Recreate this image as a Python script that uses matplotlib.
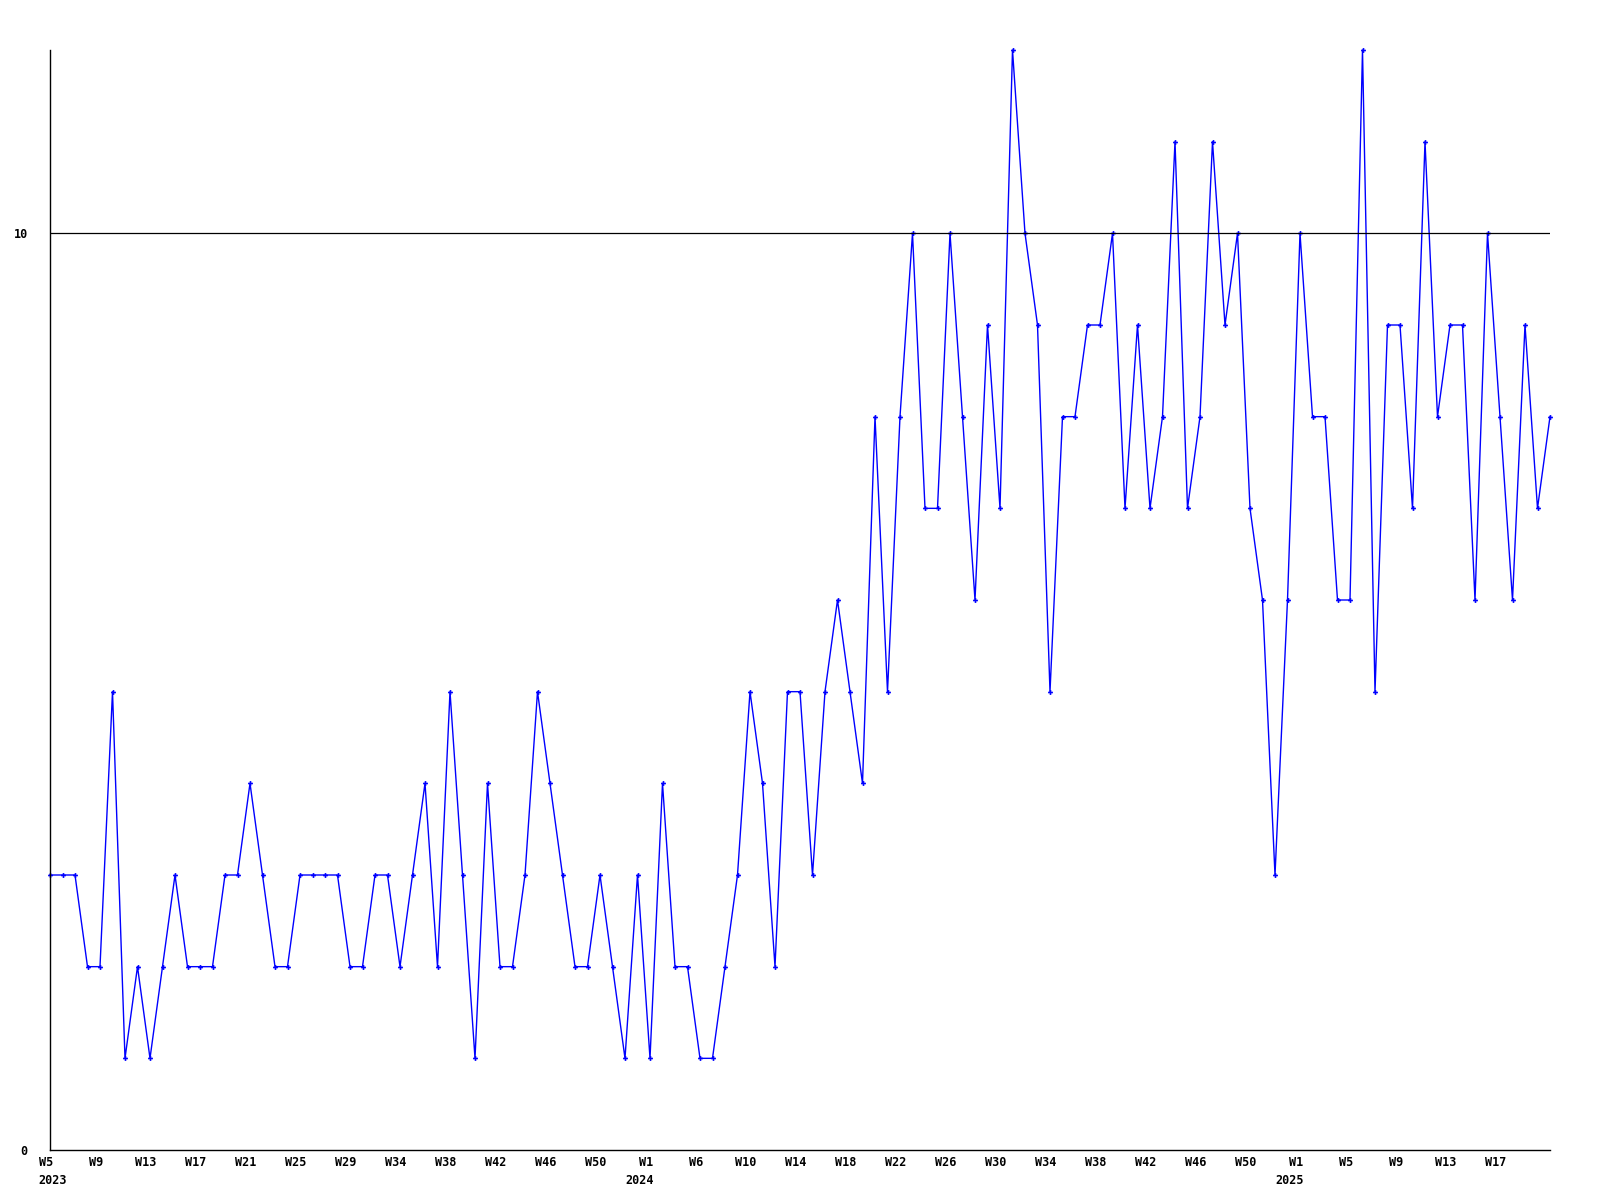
import numpy as np
import matplotlib.pyplot as plt
import matplotlib.transforms as mtransforms

# weekly counts, W5 2023 .. W21 2025
values = [3, 3, 3, 2, 2, 5, 1, 2, 1, 2,
          3, 2, 2, 2, 3, 3, 4, 3, 2, 2,
          3, 3, 3, 3, 2, 2, 3, 3, 2, 3,
          4, 2, 5, 3, 1, 4, 2, 2, 3, 5,
          4, 3, 2, 2, 3, 2, 1, 3, 1, 4,
          2, 2, 1, 1, 2, 3, 5, 4, 2, 5,
          5, 3, 5, 6, 5, 4, 8, 5, 8, 10,
          7, 7, 10, 8, 6, 9, 7, 12, 10, 9,
          5, 8, 8, 9, 9, 10, 7, 9, 7, 8,
          11, 7, 8, 11, 9, 10, 7, 6, 3, 6,
          10, 8, 8, 6, 6, 12, 5, 9, 9, 7,
          11, 8, 9, 9, 6, 10, 8, 6, 9, 7, 8]
week_labels = ['W5', 'W9', 'W13', 'W17', 'W21', 'W25', 'W29', 'W34', 'W38', 'W42',
               'W46', 'W50', 'W1', 'W6', 'W10', 'W14', 'W18', 'W22', 'W26', 'W30',
               'W34', 'W38', 'W42', 'W46', 'W50', 'W1', 'W5', 'W9', 'W13', 'W17']
years = ['2023', '2024', '2025']
year_pos = [0, 48, 100]
year_shift = [3, -10, -10]  # pixels

plt.rcParams['font.family'] = 'DejaVu Sans Mono'
plt.rcParams['font.weight'] = 'bold'

x = np.arange(len(values))
fig = plt.figure(figsize=(16, 12), dpi=100)
ax = fig.add_axes([0.03125, 0.041667, 0.9375, 0.916667])

ax.plot(x, values, color='#0000ff', lw=1, marker='P', ms=3.5, mew=0, clip_on=False)
ax.axhline(10, color='black', lw=0.9)

ax.set_xlim(0, len(values) - 1)
ax.set_ylim(0, 12)
ax.set_yticks([0, 10])
ax.set_yticklabels(['0', '10'], fontsize=8.5, fontweight='bold')
ax.set_xticks(np.arange(0, 4 * len(week_labels), 4))
ax.set_xticklabels(week_labels, fontsize=8.5, fontweight='bold')
ax.tick_params(axis='x', length=0, pad=4)
ax.tick_params(axis='y', length=0, pad=16)

shift = mtransforms.ScaledTranslation(-4 / 100, 0, fig.dpi_scale_trans)
for lab in ax.get_xticklabels():
    lab.set_transform(lab.get_transform() + shift)

for yr, p, dx in zip(years, year_pos, year_shift):
    ax.annotate(yr, xy=(p, 0), xycoords='data', xytext=(dx * 0.72, -17), textcoords='offset points',
                ha='center', va='top', fontsize=8.5, fontweight='bold', annotation_clip=False)

for s in ['top', 'right']:
    ax.spines[s].set_visible(False)
for s in ['left', 'bottom']:
    ax.spines[s].set_linewidth(1)

plt.savefig('out.png', dpi=100)
